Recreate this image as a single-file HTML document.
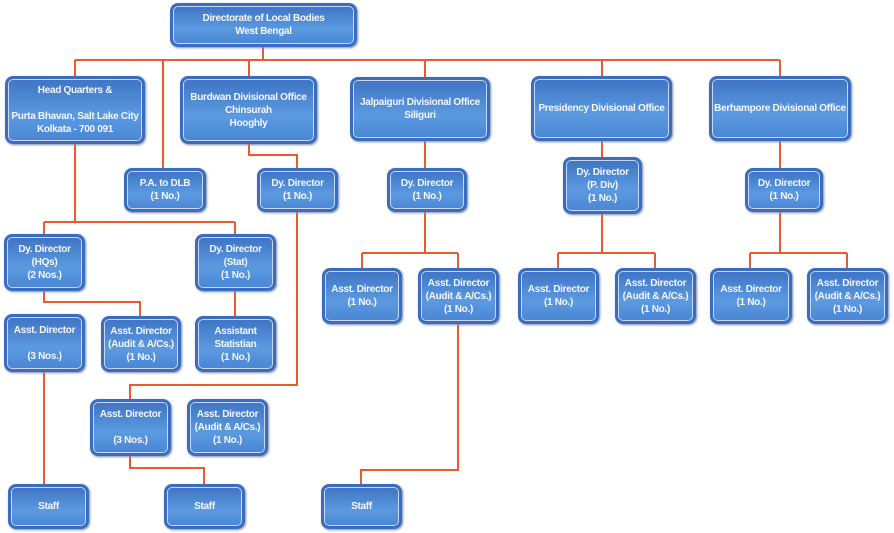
<!DOCTYPE html>
<html><head><meta charset="utf-8"><style>
body{margin:0;width:894px;height:533px;background:#fff;position:relative;overflow:hidden;font-family:"Liberation Sans",sans-serif}
svg{position:absolute;left:0;top:0}
.b{position:absolute;box-sizing:border-box;border-radius:8px;background:linear-gradient(#3f74c4,#5b9ae0 60%,#4a86d4);border:3px solid #3a6cc0;box-shadow:inset 0 0 0 1px #c9d8f5, 1px 1px 2px #7a8ab0;color:#f4f6ff;font-size:10px;font-weight:bold;letter-spacing:-0.3px;white-space:nowrap;display:flex;align-items:center;justify-content:center;text-align:center;line-height:13px}
</style></head><body>
<svg width="894" height="533"><g stroke="#ec5a2c" stroke-width="2" fill="none">
<path d="M263 46V60M75 60H780M75 60V76M163 60V168M249 60V76M425 60V77M602 60V76M780 60V76"/>
<path d="M249 143V155H297V168M297 211V385H130V399"/>
<path d="M75 143V222M44 222H235M44 222V234M235 222V234M44 290V302H140V316M235 290V316M44 371V484"/>
<path d="M130 455V468H204V484"/>
<path d="M425 140V168M425 211V253M362 253H458M362 253V268M458 253V268M458 323V470H361V484"/>
<path d="M602 140V157M602 213V253M558 253H655M558 253V268M655 253V268"/>
<path d="M780 140V168M780 211V253M750 253H847M750 253V268M847 253V268"/>
</g></svg>
<div class="b" style="left:170px;top:3px;width:187px;height:44px">Directorate of Local Bodies<br>West Bengal</div>
<div class="b" style="left:5px;top:76px;width:140px;height:68px">Head Quarters &amp;<br><br>Purta Bhavan, Salt Lake City<br>Kolkata - 700 091</div>
<div class="b" style="left:180px;top:76px;width:137px;height:68px">Burdwan Divisional Office<br>Chinsurah<br>Hooghly</div>
<div class="b" style="left:350px;top:77px;width:140px;height:64px">Jalpaiguri Divisional Office<br>Siliguri</div>
<div class="b" style="left:531px;top:76px;width:141px;height:65px">Presidency Divisional Office</div>
<div class="b" style="left:709px;top:76px;width:142px;height:65px">Berhampore Divisional Office</div>
<div class="b" style="left:124px;top:168px;width:82px;height:44px">P.A. to DLB<br>(1 No.)</div>
<div class="b" style="left:257px;top:168px;width:81px;height:44px">Dy. Director<br>(1 No.)</div>
<div class="b" style="left:387px;top:168px;width:80px;height:44px">Dy. Director<br>(1 No.)</div>
<div class="b" style="left:563px;top:157px;width:79px;height:57px">Dy. Director<br>(P. Div)<br>(1 No.)</div>
<div class="b" style="left:745px;top:168px;width:78px;height:44px">Dy. Director<br>(1 No.)</div>
<div class="b" style="left:4px;top:234px;width:81px;height:57px">Dy. Director<br>(HQs)<br>(2 Nos.)</div>
<div class="b" style="left:195px;top:234px;width:81px;height:57px">Dy. Director<br>(Stat)<br>(1 No.)</div>
<div class="b" style="left:4px;top:314px;width:81px;height:58px">Asst. Director<br><br>(3 Nos.)</div>
<div class="b" style="left:101px;top:316px;width:80px;height:56px">Asst. Director<br>(Audit &amp; A/Cs.)<br>(1 No.)</div>
<div class="b" style="left:195px;top:316px;width:81px;height:56px">Assistant<br>Statistian<br>(1 No.)</div>
<div class="b" style="left:322px;top:268px;width:80px;height:56px">Asst. Director<br>(1 No.)</div>
<div class="b" style="left:418px;top:268px;width:81px;height:56px">Asst. Director<br>(Audit &amp; A/Cs.)<br>(1 No.)</div>
<div class="b" style="left:518px;top:268px;width:81px;height:56px">Asst. Director<br>(1 No.)</div>
<div class="b" style="left:615px;top:268px;width:81px;height:56px">Asst. Director<br>(Audit &amp; A/Cs.)<br>(1 No.)</div>
<div class="b" style="left:710px;top:268px;width:82px;height:56px">Asst. Director<br>(1 No.)</div>
<div class="b" style="left:807px;top:268px;width:81px;height:56px">Asst. Director<br>(Audit &amp; A/Cs.)<br>(1 No.)</div>
<div class="b" style="left:90px;top:399px;width:81px;height:57px">Asst. Director<br><br>(3 Nos.)</div>
<div class="b" style="left:187px;top:399px;width:81px;height:57px">Asst. Director<br>(Audit &amp; A/Cs.)<br>(1 No.)</div>
<div class="b" style="left:8px;top:484px;width:81px;height:45px">Staff</div>
<div class="b" style="left:164px;top:484px;width:81px;height:45px">Staff</div>
<div class="b" style="left:321px;top:484px;width:81px;height:45px">Staff</div>
</body></html>
